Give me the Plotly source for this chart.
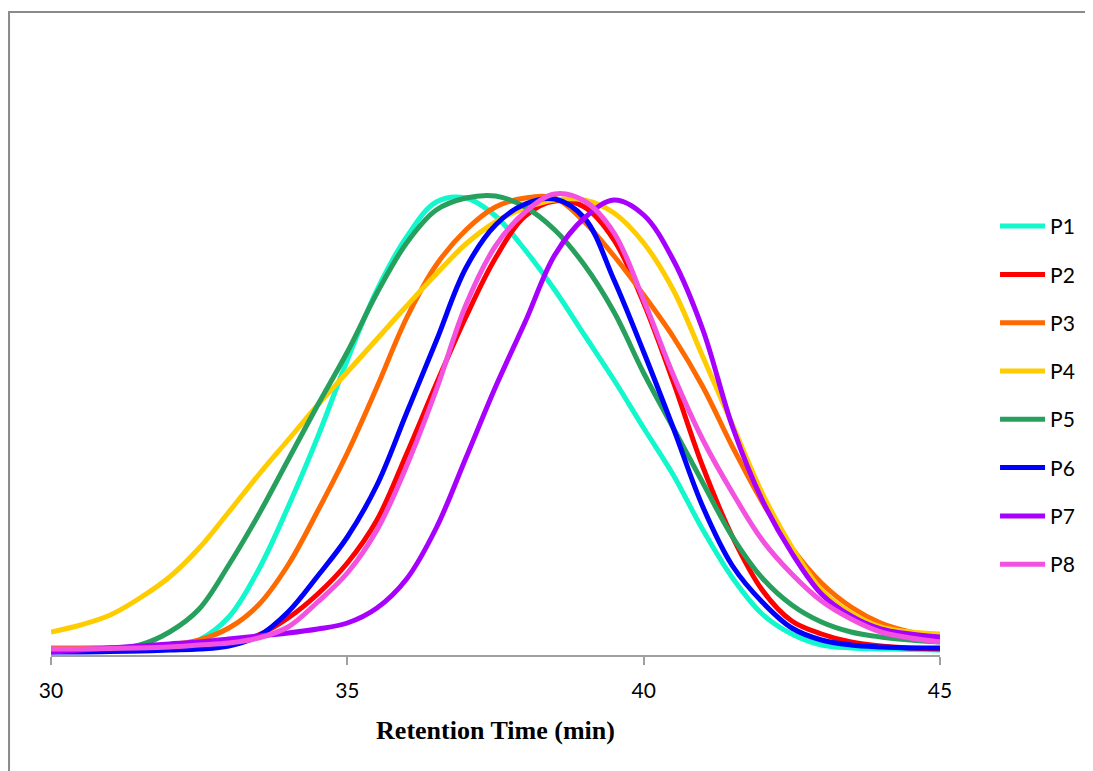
import plotly.graph_objects as go

# Retention time (min)
time_min = [30.0, 30.5, 31.0, 31.5, 32.0, 32.5, 33.0, 33.5, 34.0, 34.5, 35.0,
            35.5, 36.0, 36.5, 37.0, 37.5, 38.0, 38.5, 39.0, 39.5, 40.0,
            40.5, 41.0, 41.5, 42.0, 42.5, 43.0, 43.5, 44.0, 44.5, 45.0]

# Detector response (arbitrary units)
p1 = [4, 4, 4, 4.5, 6, 15, 38, 85, 148, 218, 295, 365, 418, 453, 457, 439, 405, 365, 320, 275, 227,
      180, 125, 77, 41, 21, 10, 7, 6, 5.5, 5]
p2 = [4, 4, 4.5, 5, 6, 8, 12, 20, 37, 61, 92, 135, 201, 271, 338, 397, 439, 454, 448, 415, 352,
      273, 188, 118, 65, 34, 21, 13, 9, 7, 6]
p3 = [7, 7, 7.5, 8, 10, 15, 27, 50, 90, 144, 202, 268, 337, 390, 425, 448, 457, 457, 433, 399, 360,
      318, 268, 208, 153, 107, 72, 48, 32, 23, 17]
p4 = [23, 30, 40, 57, 78, 107, 143, 180, 215, 250, 283, 316, 349, 381, 411, 433, 447, 455, 455, 442, 412,
      365, 298, 230, 162, 108, 65, 42, 28, 23, 21]
p5 = [5, 5, 6, 10, 23, 46, 90, 140, 195, 250, 303, 362, 412, 445, 457, 459, 448, 425, 390, 343, 282,
      227, 172, 118, 77, 50, 33, 23, 18, 15, 13]
p6 = [3, 3, 3.5, 4, 5, 6, 9, 19, 43, 79, 118, 170, 242, 314, 387, 430, 451, 456, 437, 375, 303,
      227, 148, 89, 53, 27, 15, 10, 8, 7, 7]
p7 = [3, 5, 7, 9, 11, 13, 16, 19, 22, 26, 32, 47, 76, 127, 197, 268, 333, 400, 437, 455, 440,
      395, 325, 228, 155, 102, 61, 39, 26, 21, 18]
p8 = [6, 6, 6.5, 7, 8, 10, 12, 17, 28, 53, 82, 125, 189, 265, 350, 409, 443, 461, 454, 422, 355,
      280, 215, 162, 115, 81, 54, 36, 23, 17, 13]

series_names = ["P1", "P2", "P3", "P4", "P5", "P6", "P7", "P8"]
series_values = [p1, p2, p3, p4, p5, p6, p7, p8]
series_colors = ["#12F7CC", "#FF0000", "#FF6A00", "#FFCC00", "#27A05E", "#0000FF", "#A800FF", "#F252DF"]

x_ticks = [30, 35, 40, 45]

fig = go.Figure()
for name, vals, col in zip(series_names, series_values, series_colors):
    fig.add_trace(go.Scatter(
        x=time_min, y=vals, name=name, mode="lines",
        line=dict(color=col, width=5, shape="spline", smoothing=1.0),
        legendgroup=name,
    ))

fig.update_layout(
    width=1093, height=771,
    margin=dict(l=43, r=161, t=22, b=124),
    paper_bgcolor="white", plot_bgcolor="white",
    font=dict(family="Lato, 'Open Sans', sans-serif", color="black"),
    showlegend=True,
    legend=dict(
        x=1.0619, y=0.7185, xanchor="left", yanchor="top",
        font=dict(size=21, color="black", family="Lato, 'Open Sans', sans-serif"),
        tracegroupgap=18, itemwidth=45, bgcolor="rgba(0,0,0,0)",
    ),
    xaxis=dict(
        range=[30, 45], tickvals=x_ticks, ticktext=[str(t) for t in x_ticks],
        showgrid=False, zeroline=False,
        showline=True, linecolor="#A0A0A0", linewidth=2,
        ticks="outside", ticklen=8, tickwidth=2, tickcolor="#A0A0A0",
        tickfont=dict(size=21, color="black"),
        ticklabelstandoff=8,
        title=dict(text="<b>Retention Time (min)</b>",
                   font=dict(family="'Liberation Serif', 'Times New Roman', serif", size=26, color="black"),
                   standoff=20),
    ),
    yaxis=dict(range=[0, 625], visible=False, showgrid=False, zeroline=False),
    shapes=[dict(type="rect", xref="paper", yref="paper",
                 x0=-0.0472, x1=1.25, y0=-0.3, y1=1.0288,
                 line=dict(color="#8A8A8A", width=2), fillcolor="rgba(0,0,0,0)", layer="below")],
)

fig.write_html("out.html")
